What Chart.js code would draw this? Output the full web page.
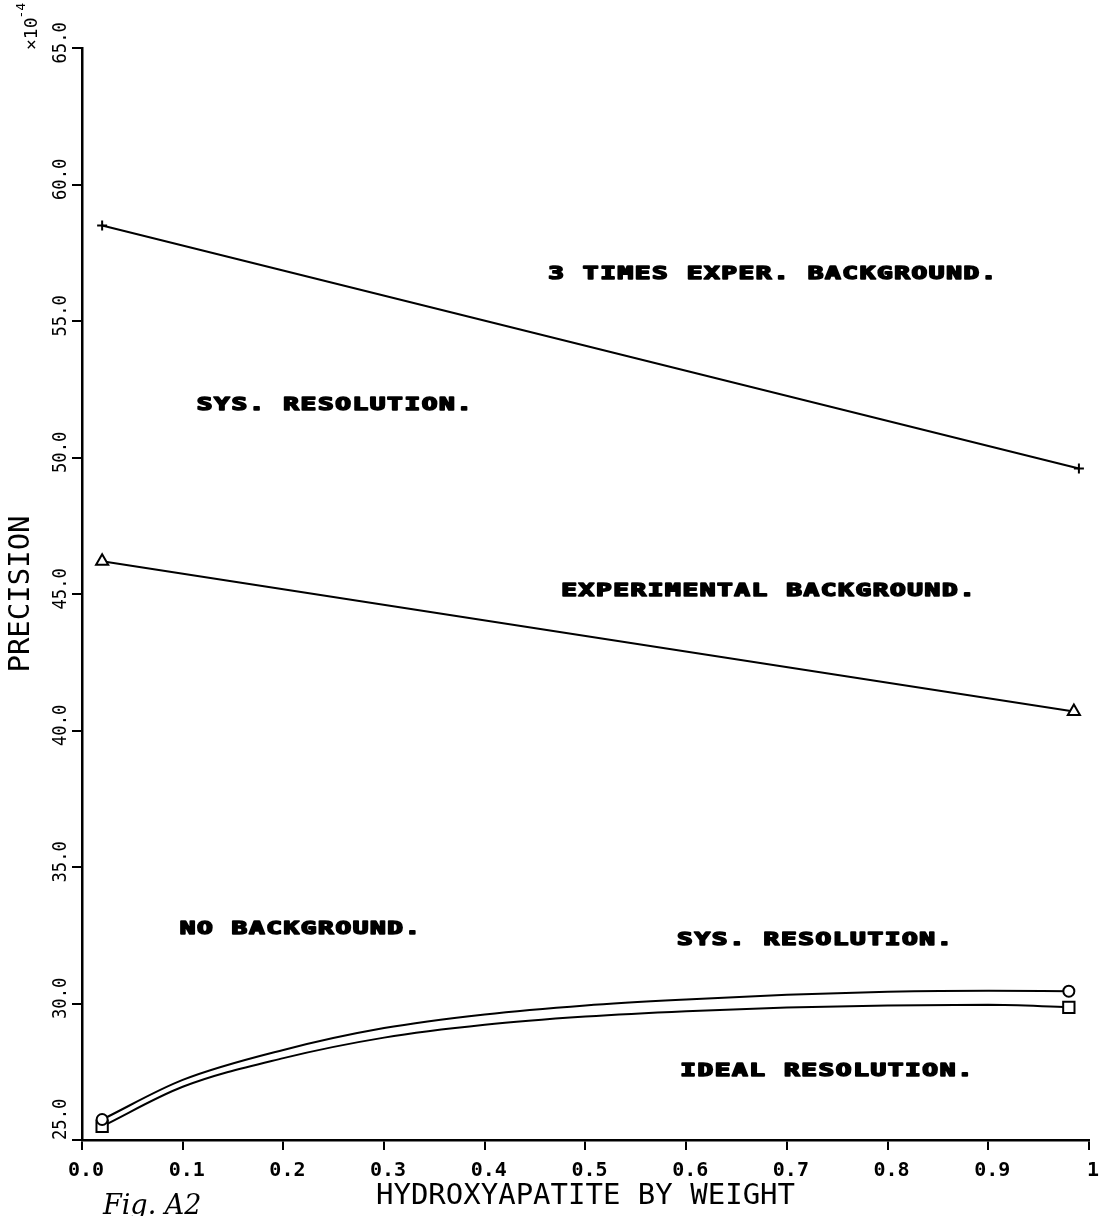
<!DOCTYPE html>
<html lang="en">
<head>
<meta charset="utf-8">
<title>Precision vs hydroxyapatite</title>
<script src="https://cdn.jsdelivr.net/npm/chart.js"></script>
<style>
    html, body { margin: 0; padding: 0; background: #fff; }
    #box { width: 1104px; height: 1216px; }
</style>
</head>
<body>
<div id="box"><canvas id="myChart"></canvas></div>

<script>
    // hydroxyapatite fraction by weight for each run
    var xLine = [0.02, 0.99];
    var xTri = [0.02, 0.985];
    var xCurve = [0.02, 0.1, 0.2, 0.3, 0.4, 0.5, 0.6, 0.7, 0.8, 0.9, 0.98];

    // precision (x 1e-4)
    var threeTimesBg = [58.5, 49.6];
    var experimentalBg = [46.2, 40.7];
    var noBgSys = [25.75, 27.2, 28.3, 29.1, 29.6, 29.93, 30.15, 30.32, 30.43, 30.47, 30.45];
    var noBgIdeal = [25.5, 26.95, 28.0, 28.75, 29.22, 29.52, 29.72, 29.85, 29.93, 29.95, 29.86];

    // curve captions, anchored in data units (left edge, middle)
    var noteText = ['3 TIMES EXPER. BACKGROUND.', 'SYS. RESOLUTION.', 'EXPERIMENTAL BACKGROUND.',
                    'NO BACKGROUND.', 'SYS. RESOLUTION.', 'IDEAL RESOLUTION.'];
    var noteX = [0.463, 0.114, 0.476, 0.097, 0.591, 0.594];
    var noteY = [56.7, 51.9, 45.1, 32.7, 32.3, 27.5];

    function pairs(xs, ys) {
        return xs.map(function (x, i) { return {x: x, y: ys[i]}; });
    }

    // markers only at the two ends of each curve
    function endsOnly(r) {
        return function (c) {
            var n = c.dataset.data.length;
            return (c.dataIndex === 0 || c.dataIndex === n - 1) ? r : 0;
        };
    }

    var mono = 'DejaVu Sans Mono';

    var plotterText = {
        id: 'plotterText',
        afterDraw: function (chart) {
            var ctx = chart.ctx;
            var xs = chart.scales.x, ys = chart.scales.y;
            ctx.save();
            ctx.fillStyle = '#000';
            ctx.strokeStyle = '#000';

            // vertical tick labels on the y axis
            ctx.font = '20px "' + mono + '"';
            ctx.textBaseline = 'middle';
            ys.ticks.forEach(function (t, i) {
                var py = ys.getPixelForValue(t.value);
                ctx.save();
                ctx.translate(ys.right - 21, py);
                ctx.rotate(-Math.PI / 2);
                ctx.scale(0.86, 1);
                if (i === 0) {
                    ctx.textAlign = 'left';
                    ctx.fillText(t.value.toFixed(1), 0, 0);
                } else {
                    ctx.textAlign = 'center';
                    ctx.fillText(t.value.toFixed(1), 6, 0);
                }
                ctx.restore();
            });

            // scale factor x10^-4
            ctx.save();
            ctx.translate(37, 50);
            ctx.rotate(-Math.PI / 2);
            ctx.textAlign = 'left';
            ctx.textBaseline = 'alphabetic';
            ctx.font = '18px "' + mono + '"';
            ctx.fillText('\u00d710', 0, 0);
            var w = ctx.measureText('\u00d710').width;
            ctx.font = '13px "' + mono + '"';
            ctx.fillText('-4', w - 1, -12);
            ctx.restore();

            // captions, wide heavy monospace
            ctx.font = 'bold 18px "' + mono + '"';
            ctx.textAlign = 'left';
            ctx.textBaseline = 'middle';
            ctx.lineWidth = 1.6;
            ctx.lineJoin = 'round';
            noteText.forEach(function (txt, k) {
                var px = xs.getPixelForValue(noteX[k]);
                var py = ys.getPixelForValue(noteY[k]);
                for (var i = 0; i < txt.length; i++) {
                    ctx.save();
                    ctx.translate(px + i * 17.3, py);
                    ctx.scale(1.45, 1);
                    ctx.fillText(txt[i], 0, 0);
                    ctx.strokeText(txt[i], 0, 0);
                    ctx.restore();
                }
            });

            // figure tag
            ctx.font = 'italic 27px "DejaVu Serif"';
            ctx.textBaseline = 'alphabetic';
            ctx.fillText('Fig. A2', 103, 1214);
            ctx.restore();
        }
    };

    var data = {
        datasets: [{
            label: '3 times exper. background',
            data: pairs(xLine, threeTimesBg),
            pointStyle: 'cross',
            pointRadius: 5
        }, {
            label: 'Experimental background',
            data: pairs(xTri, experimentalBg),
            pointStyle: 'triangle',
            pointRadius: 7
        }, {
            label: 'No background, sys. resolution',
            data: pairs(xCurve, noBgSys),
            pointStyle: 'circle',
            pointRadius: endsOnly(5.5),
            cubicInterpolationMode: 'monotone'
        }, {
            label: 'No background, ideal resolution',
            data: pairs(xCurve, noBgIdeal),
            pointStyle: 'rect',
            pointRadius: endsOnly(8),
            cubicInterpolationMode: 'monotone'
        }]
    };
    data.datasets.forEach(function (d) {
        d.borderColor = '#000';
        d.borderWidth = 2;
        d.backgroundColor = '#fff';
        d.pointBorderColor = '#000';
        d.pointBackgroundColor = '#fff';
        d.pointBorderWidth = 2;
        d.fill = false;
    });

    var config = {
        type: 'line',
        data: data,
        options: {
            responsive: true,
            maintainAspectRatio: false,
            animation: false,
            layout: {padding: {top: 48, right: 11, left: 0, bottom: 0}},
            plugins: {
                legend: {display: false},
                tooltip: {enabled: false}
            },
            scales: {
                x: {
                    type: 'linear',
                    min: 0,
                    max: 1,
                    ticks: {
                        stepSize: 0.1,
                        autoSkip: false,
                        maxRotation: 0,
                        padding: 9,
                        labelOffset: 4,
                        color: '#000',
                        font: {family: mono, size: 20, weight: 'bold'},
                        callback: function (v) {
                            return Math.abs(v - 1) < 1e-9 ? '1' : v.toFixed(1);
                        }
                    },
                    grid: {drawOnChartArea: false, drawTicks: true, tickLength: 10, color: '#000', lineWidth: 2},
                    border: {display: true, color: '#000', width: 2.5},
                    title: {
                        display: true,
                        text: 'HYDROXYAPATITE BY WEIGHT',
                        color: '#000',
                        font: {family: mono, size: 29},
                        padding: {top: 0, bottom: 2}
                    },
                    afterFit: function (s) { s.height = 76; }
                },
                y: {
                    min: 25,
                    max: 65,
                    ticks: {stepSize: 5, display: false},
                    grid: {drawOnChartArea: false, drawTicks: true, tickLength: 10, color: '#000', lineWidth: 2},
                    border: {display: true, color: '#000', width: 2.5},
                    title: {
                        display: true,
                        text: 'PRECISION',
                        color: '#000',
                        font: {family: mono, size: 29},
                        padding: {top: 4, bottom: 0}
                    },
                    afterFit: function (s) { s.width = 82; }
                }
            }
        },
        plugins: [plotterText]
    };

    var myChart = new Chart(document.getElementById('myChart'), config);
</script>
</body>
</html>
